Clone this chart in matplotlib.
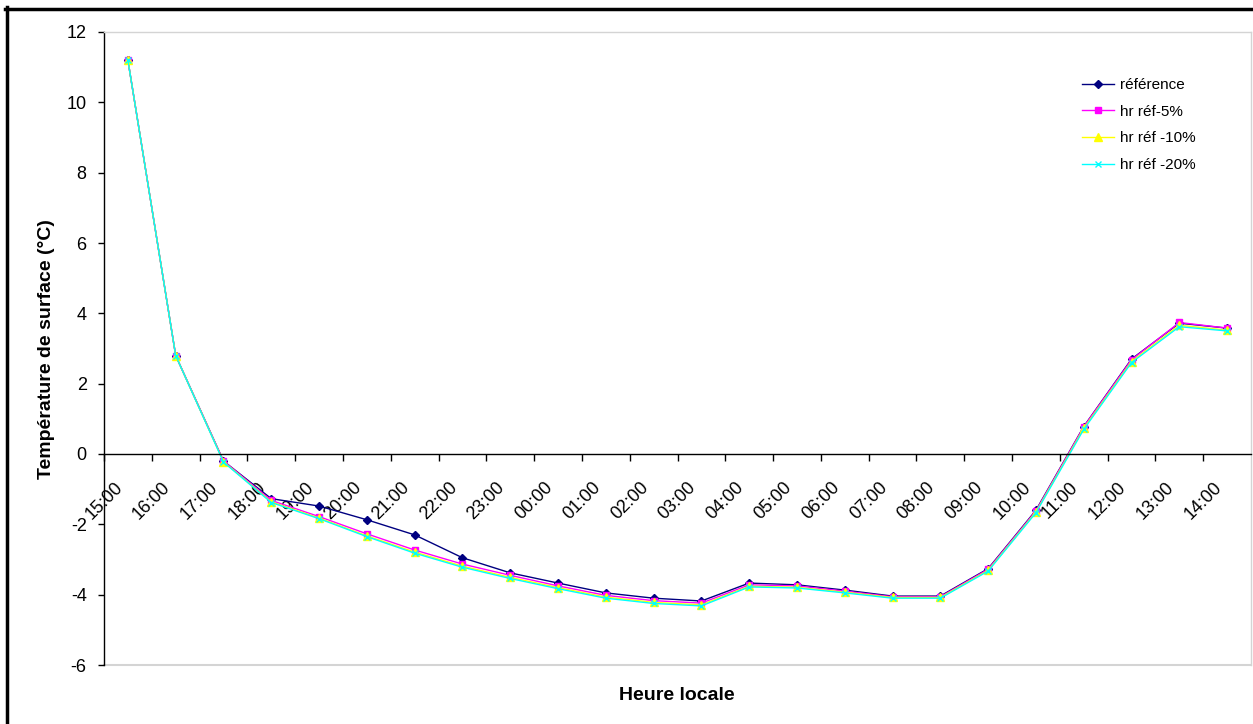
import numpy as np
import matplotlib
matplotlib.use('Agg')
import matplotlib.pyplot as plt
from matplotlib.lines import Line2D

plt.rcParams['font.family'] = ['Liberation Sans', 'DejaVu Sans']
plt.rcParams['axes.unicode_minus'] = False

# hourly categories (local time)
heures = ['15:00', '16:00', '17:00', '18:00', '19:00', '20:00', '21:00', '22:00',
          '23:00', '00:00', '01:00', '02:00', '03:00', '04:00', '05:00', '06:00',
          '07:00', '08:00', '09:00', '10:00', '11:00', '12:00', '13:00', '14:00']

# surface temperature (deg C) for each run
reference = [11.2, 2.8, -0.2, -1.27, -1.48, -1.87, -2.30, -2.95, -3.38, -3.67, -3.95, -4.10,
             -4.18, -3.67, -3.72, -3.87, -4.04, -4.04, -3.26, -1.60, 0.78, 2.70, 3.72, 3.58]
hr_ref_5 = [11.2, 2.8, -0.2, -1.32, -1.78, -2.27, -2.73, -3.13, -3.45, -3.75, -4.02, -4.17,
            -4.24, -3.72, -3.75, -3.90, -4.06, -4.06, -3.28, -1.62, 0.77, 2.68, 3.74, 3.58]
hr_ref_10 = [11.2, 2.8, -0.22, -1.36, -1.82, -2.33, -2.79, -3.19, -3.51, -3.80, -4.07, -4.22,
             -4.29, -3.76, -3.79, -3.93, -4.08, -4.08, -3.31, -1.65, 0.73, 2.63, 3.66, 3.52]
hr_ref_20 = [11.2, 2.8, -0.23, -1.38, -1.84, -2.35, -2.82, -3.22, -3.54, -3.83, -4.10, -4.25,
             -4.32, -3.78, -3.81, -3.95, -4.10, -4.10, -3.33, -1.67, 0.70, 2.60, 3.62, 3.50]

series = [
    (reference, 'référence', '#000080', 'D', 4.5),
    (hr_ref_5, 'hr réf-5%', '#FF00FF', 's', 5),
    (hr_ref_10, 'hr réf -10%', '#FFFF00', '^', 6),
    (hr_ref_20, 'hr réf -20%', '#00FFFF', 'x', 5),
]

W, H = 1253, 724
fig = plt.figure(figsize=(W / 100, H / 100), dpi=100)
fig.patch.set_facecolor('white')

# plot area in pixels: x 104..1251, y 32..665
ax = fig.add_axes([104 / W, 1 - 665 / H, (1251 - 104) / W, (665 - 32) / H])

# x axis crosses at 0 (do this before tick labels, it resets ticks)
ax.spines['bottom'].set_position(('data', 0))
ax.spines['bottom'].set_linewidth(1)
ax.spines['left'].set_linewidth(1)
for s in ['top', 'right']:
    ax.spines[s].set_color('#d4d4d4')
    ax.spines[s].set_linewidth(1)

x = np.arange(len(heures)) + 0.5
for vals, lab, col, mk, ms in series:
    ax.plot(x, vals, color=col, lw=1, marker=mk, ms=ms, mew=1, label=lab, clip_on=False)

ax.set_xlim(0, len(heures))
ax.set_ylim(-6, 12)
ax.set_yticks(np.arange(-6, 13, 2))
ax.set_xticks(np.arange(len(heures)))
ax.set_xticklabels(heures, rotation=45, ha='center', va='top')
ax.axhline(-6, color='#d4d4d4', lw=1.5, clip_on=False, zorder=0)

ax.tick_params(axis='x', direction='out', length=5, width=1, pad=13, labelsize=13)
ax.tick_params(axis='y', direction='out', length=4.5, width=1, pad=8, labelsize=13)

ax.legend(loc='upper left', bbox_to_anchor=(1082 / W, 1 - 78 / H), bbox_transform=fig.transFigure,
          frameon=False, fontsize=11, borderaxespad=0, borderpad=0, handlelength=2.1,
          handletextpad=0.4, labelspacing=0.83)

fig.text(677 / W, 1 - 696 / H, 'Heure locale', ha='center', va='center',
         fontsize=14, fontweight='bold')
fig.text(47 / W, 1 - 349 / H, 'Température de surface (°C)', ha='center', va='center',
         rotation=90, fontsize=14, fontweight='bold')

# outer chart border (only left and top visible)
fig.add_artist(Line2D([6.5 / W, 6.5 / W], [0, 1 - 7 / H], color='black', lw=2.5))
fig.add_artist(Line2D([5 / W, 1], [1 - 8.5 / H, 1 - 8.5 / H], color='black', lw=2.5))

fig.savefig('out.png', dpi=100)
